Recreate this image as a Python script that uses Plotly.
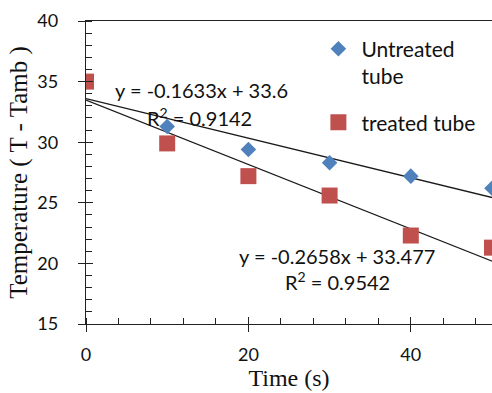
import numpy as np
import plotly.graph_objects as go

time_s = [0, 10, 20, 30, 40, 50]
untreated = [35.0, 31.3, 29.4, 28.3, 27.2, 26.2]
treated = [35.0, 29.9, 27.2, 25.6, 22.3, 21.3]

fit_slopes = [-0.1633, -0.2658]
fit_intercepts = [33.6, 33.477]
fit_labels = ["y = -0.1633x + 33.6", "y = -0.2658x + 33.477"]
r2_labels = ["R<sup>2</sup> = 0.9142", "R<sup>2</sup> = 0.9542"]

BLUE = "#4F81BD"
RED = "#C0504D"
TICKFONT = "Lato, Carlito, Calibri, sans-serif"
SERIF = "Liberation Serif, Times New Roman, serif"

fig = go.Figure()

x_line = np.array([0, 60])
for m, b in zip(fit_slopes, fit_intercepts):
    fig.add_trace(go.Scatter(x=x_line, y=m * x_line + b, mode="lines",
                             line=dict(color="#1a1a1a", width=1.3),
                             showlegend=False, hoverinfo="skip"))

fig.add_trace(go.Scatter(x=time_s, y=untreated, mode="markers",
                         name="Untreated<br>tube", legendgroup="a",
                         marker=dict(symbol="diamond", size=12, color=BLUE)))
fig.add_trace(go.Scatter(x=time_s, y=treated, mode="markers",
                         name="treated tube", legendgroup="b",
                         marker=dict(symbol="square", size=16, color=RED)))

# trendline labels
ann_pos = [(14.2, 34.3, 14.0, 32.1), (30.9, 20.63, 31.0, 18.56)]
for (xa, ya, xb, yb), t1, t2 in zip(ann_pos, fit_labels, r2_labels):
    fig.add_annotation(x=xa, y=ya, text=t1, showarrow=False, xref="x", yref="y",
                       font=dict(family=TICKFONT, size=20, color="#111"))
    fig.add_annotation(x=xb, y=yb, text=t2, showarrow=False, xref="x", yref="y",
                       font=dict(family=TICKFONT, size=20, color="#111"))

axis_common = dict(showgrid=False, zeroline=False, linecolor="#222", linewidth=1.3,
                   tickcolor="#222", tickwidth=1.3)

fig.update_layout(
    width=492, height=393,
    margin=dict(l=86, r=0, t=21, b=69),
    plot_bgcolor="white", paper_bgcolor="white",
    showlegend=True,
    legend=dict(x=0.565, y=0.975, xanchor="left", yanchor="top",
                font=dict(family=TICKFONT, size=21, color="#111"),
                bgcolor="rgba(0,0,0,0)", traceorder="grouped",
                tracegroupgap=16, valign="top", itemwidth=36),
    xaxis=dict(range=[0, 50.0], tickvals=[0, 20, 40], ticks="outside", ticklen=7,
               minor=dict(dtick=4, tick0=0, ticks="inside", ticklen=6,
                          tickcolor="#222", tickwidth=1.3),
               mirror=True, showline=True,
               tickfont=dict(family=TICKFONT, size=18, color="#111"),
               ticklabelstandoff=7,
               title=dict(text="Time (s)", font=dict(family=SERIF, size=24, color="#111"),
                          standoff=3),
               **axis_common),
    yaxis=dict(range=[15, 40], dtick=5, ticks="outside", ticklen=7,
               minor=dict(dtick=1, ticks="inside", ticklen=6,
                          tickcolor="#222", tickwidth=1.3),
               showline=True,
               tickfont=dict(family=TICKFONT, size=18, color="#111"),
               ticklabelstandoff=16,
               title=dict(text="Temperature ( T - Tamb )",
                          font=dict(family=SERIF, size=25, color="#111"),
                          standoff=2),
               **axis_common),
    xaxis2=dict(range=[0, 50.0], overlaying="x", tickvals=[0, 20, 40], ticks="inside",
                ticklen=7, showticklabels=False, showgrid=False, zeroline=False,
                showline=False, tickcolor="#222", tickwidth=1.3),
    yaxis2=dict(range=[15, 40], overlaying="y", dtick=5, ticks="inside",
                ticklen=7, showticklabels=False, showgrid=False, zeroline=False,
                showline=False, tickcolor="#222", tickwidth=1.3),
)

# invisible trace to activate the secondary (crossing tick) axes
fig.add_trace(go.Scatter(x=[None], y=[None], xaxis="x2", yaxis="y2",
                         showlegend=False, hoverinfo="skip"))

fig.write_html("out.html")
